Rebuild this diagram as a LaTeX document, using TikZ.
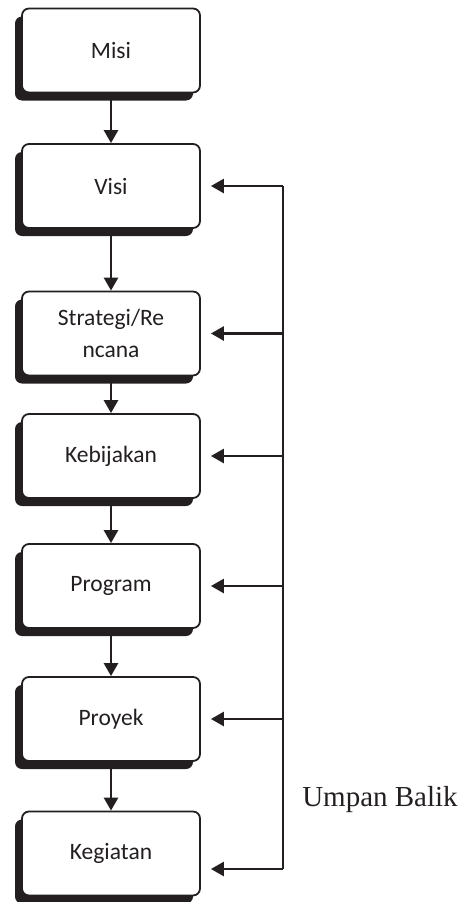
\documentclass[tikz,border=0pt]{standalone}
\usepackage{fontspec}
\setmainfont{Liberation Serif}
\newfontfamily\boxfont{Carlito}
\usepackage{tikz}
\usetikzlibrary{positioning,shadows,arrows.meta}

\definecolor{ink}{HTML}{231F20}

\begin{document}
\begin{tikzpicture}[x=1pt,y=-1pt,
    box/.style={draw=ink, fill=white, line width=1.8pt, rounded corners=7pt,
        minimum width=178pt, minimum height=84pt, align=center,
        font=\boxfont\fontsize{23.5}{32}\selectfont, text=ink,
        drop shadow={shadow xshift=-7pt, shadow yshift=-8pt, fill=ink, opacity=1}},
    arr/.style={draw=ink, line width=2.6pt, -{Triangle[length=13pt,width=14pt]}},
    rail/.style={draw=ink, line width=2pt}]
            \useasboundingbox (0,0) rectangle (468,902);
            %Nodes
            \node[box] at (111,50.5)  (misi)      {Misi};
            \node[box] at (111,186)   (visi)      {Visi};
            \node[box] at (111,333.5) (strategi)  {Strategi/Re\\ncana};
            \node[box] at (111,456)   (kebijakan) {Kebijakan};
            \node[box] at (111,586)   (program)   {Program};
            \node[box] at (111,719)   (proyek)    {Proyek};
            \node[box] at (111,853.5) (kegiatan)  {Kegiatan};
            \coordinate (rl) at (283,0);
            \coordinate (bot) at (283,869);
            \node[font=\fontsize{29}{31}\selectfont, text=ink] at (380,800) (umpan) {Umpan Balik};

            %Lines
            \draw[arr] (misi) -- (visi);
            \draw[arr] (visi) -- (strategi);
            \draw[arr] (strategi) -- (kebijakan);
            \draw[arr] (kebijakan) -- (program);
            \draw[arr] (program) -- (proyek);
            \draw[arr] (proyek) -- (kegiatan);
            \draw[rail] (rl |- visi) -- (bot);
            \draw[arr] (rl |- visi) -- ([xshift=10pt]visi.east);
            \draw[arr] (rl |- strategi) -- ([xshift=10pt]strategi.east);
            \draw[arr] (rl |- kebijakan) -- ([xshift=10pt]kebijakan.east);
            \draw[arr] (rl |- program) -- ([xshift=10pt]program.east);
            \draw[arr] (rl |- proyek) -- ([xshift=10pt]proyek.east);
            \draw[arr] (bot) -- ([xshift=10pt]kegiatan.east |- bot);
        \end{tikzpicture}
\end{document}
